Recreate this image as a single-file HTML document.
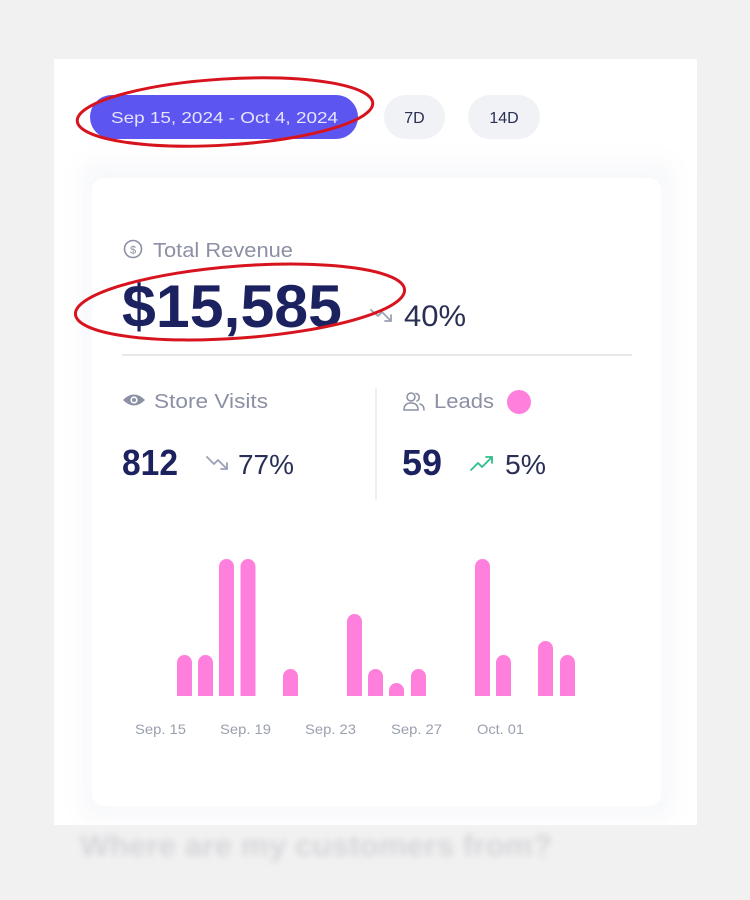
<!DOCTYPE html>
<html><head><meta charset="utf-8"><style>
html,body{margin:0;padding:0;background:#f1f1f1;}
svg{display:block;}
text{font-family:"Liberation Sans",sans-serif;}
</style></head><body>
<svg width="750" height="900" viewBox="0 0 750 900" xmlns="http://www.w3.org/2000/svg">
<defs>
<filter id="sh" x="-20%" y="-20%" width="140%" height="140%"><feGaussianBlur stdDeviation="10"/></filter>
<filter id="bl" x="-10%" y="-50%" width="120%" height="200%"><feGaussianBlur stdDeviation="3.2"/></filter>
</defs>
<rect x="0" y="0" width="750" height="900" fill="#f1f1f1"/>
<!-- outer panel -->
<rect x="54" y="59" width="643" height="766" fill="#ffffff"/>
<!-- card shadow -->
<rect x="80" y="160" width="594" height="660" rx="14" fill="#f3f4f8" opacity="0.6" filter="url(#sh)"/>
<rect x="92" y="178" width="569" height="628" rx="12" fill="#ffffff"/>

<!-- pills -->
<rect x="90" y="95" width="268" height="44" rx="22" fill="#5d55f0"/>
<text x="111" y="123" font-size="16" fill="#e6e4ff" textLength="227" lengthAdjust="spacingAndGlyphs">Sep 15, 2024 - Oct 4, 2024</text>
<rect x="384" y="95" width="61" height="44" rx="22" fill="#f1f2f5"/>
<text x="414.5" y="123" font-size="16" fill="#2a2f55" text-anchor="middle">7D</text>
<rect x="468" y="95" width="72" height="44" rx="22" fill="#f1f2f5"/>
<text x="504" y="123" font-size="16" fill="#2a2f55" text-anchor="middle">14D</text>

<!-- Total revenue -->
<circle cx="133" cy="249" r="8.5" fill="none" stroke="#8b90a4" stroke-width="1.6"/>
<text x="133" y="253.5" font-size="11" fill="#8b90a4" text-anchor="middle">$</text>
<text x="153" y="257" font-size="20" fill="#8b90a4" textLength="140" lengthAdjust="spacingAndGlyphs">Total Revenue</text>
<text x="122" y="327" font-size="60" font-weight="bold" fill="#1c2260" textLength="220" lengthAdjust="spacingAndGlyphs">$15,585</text>
<!-- down arrow -->
<g fill="none" stroke="#9aa0b5" stroke-width="1.8" stroke-linecap="round" stroke-linejoin="round">
<polyline points="371,310 378,316 382,312 391,321"/>
<polyline points="385,321 391,321 391,315"/>
</g>
<text x="404" y="326" font-size="30" fill="#2a2f55" textLength="62" lengthAdjust="spacingAndGlyphs">40%</text>

<line x1="122" y1="355" x2="632" y2="355" stroke="#e6e8ec" stroke-width="2"/>

<!-- Store visits -->
<g>
<path d="M123,400 Q134,389 145,400 Q134,411 123,400 Z" fill="#8b90a4"/>
<circle cx="134" cy="400" r="3.6" fill="#ffffff"/>
<circle cx="134" cy="400" r="2" fill="#8b90a4"/>
</g>
<text x="154" y="408" font-size="20" fill="#8b90a4" textLength="114" lengthAdjust="spacingAndGlyphs">Store Visits</text>
<text x="122" y="475" font-size="36" font-weight="bold" fill="#1c2260" textLength="56" lengthAdjust="spacingAndGlyphs">812</text>
<g fill="none" stroke="#9aa0b5" stroke-width="1.8" stroke-linecap="round" stroke-linejoin="round">
<polyline points="207,457 214,464 218,460 227,469"/>
<polyline points="221,469 227,469 227,463"/>
</g>
<text x="238" y="474" font-size="28" fill="#2a2f55" textLength="56" lengthAdjust="spacingAndGlyphs">77%</text>

<line x1="376" y1="388" x2="376" y2="500" stroke="#e6e8ec" stroke-width="1.5"/>

<!-- Leads -->
<g fill="none" stroke="#8b90a4" stroke-width="1.5" stroke-linecap="round">
<circle cx="411" cy="397" r="4"/>
<path d="M404,410 Q404,403 411,403 Q418,403 418,410 Z"/>
<path d="M416,393.5 A4,4 0 0 1 417,401"/>
<path d="M420,404 Q424,405 424,410"/>
</g>
<text x="434" y="408" font-size="20" fill="#8b90a4" textLength="60" lengthAdjust="spacingAndGlyphs">Leads</text>
<circle cx="519" cy="402" r="12" fill="#ff7fdc"/>
<text x="402" y="475" font-size="36" font-weight="bold" fill="#1c2260" textLength="40" lengthAdjust="spacingAndGlyphs">59</text>
<g fill="none" stroke="#2fbf8a" stroke-width="1.8" stroke-linecap="round" stroke-linejoin="round">
<polyline points="471,470 478,463 482,467 492,457"/>
<polyline points="486,457 492,457 492,463"/>
</g>
<text x="505" y="474" font-size="28" fill="#2a2f55" textLength="41" lengthAdjust="spacingAndGlyphs">5%</text>

<!-- bars -->
<g fill="#ff80dc">
<path d="M177,696 V662.5 A7.5,7.5 0 0 1 192,662.5 V696 Z"/>
<path d="M198,696 V662.5 A7.5,7.5 0 0 1 213,662.5 V696 Z"/>
<path d="M219,696 V566.5 A7.5,7.5 0 0 1 234,566.5 V696 Z"/>
<path d="M240.5,696 V566.5 A7.5,7.5 0 0 1 255.5,566.5 V696 Z"/>
<path d="M283,696 V676.5 A7.5,7.5 0 0 1 298,676.5 V696 Z"/>
<path d="M347,696 V621.5 A7.5,7.5 0 0 1 362,621.5 V696 Z"/>
<path d="M368,696 V676.5 A7.5,7.5 0 0 1 383,676.5 V696 Z"/>
<path d="M389,696 V690.5 A7.5,7.5 0 0 1 404,690.5 V696 Z"/>
<path d="M411,696 V676.5 A7.5,7.5 0 0 1 426,676.5 V696 Z"/>
<path d="M475,696 V566.5 A7.5,7.5 0 0 1 490,566.5 V696 Z"/>
<path d="M496,696 V662.5 A7.5,7.5 0 0 1 511,662.5 V696 Z"/>
<path d="M538,696 V648.5 A7.5,7.5 0 0 1 553,648.5 V696 Z"/>
<path d="M560,696 V662.5 A7.5,7.5 0 0 1 575,662.5 V696 Z"/>
</g>
<g font-size="14" fill="#9aa0ae">
<text x="135" y="734" textLength="51" lengthAdjust="spacingAndGlyphs">Sep. 15</text>
<text x="220" y="734" textLength="51" lengthAdjust="spacingAndGlyphs">Sep. 19</text>
<text x="305" y="734" textLength="51" lengthAdjust="spacingAndGlyphs">Sep. 23</text>
<text x="391" y="734" textLength="51" lengthAdjust="spacingAndGlyphs">Sep. 27</text>
<text x="477" y="734" textLength="47" lengthAdjust="spacingAndGlyphs">Oct. 01</text>
</g>

<!-- blurred heading -->
<text x="80" y="856" font-size="31" font-weight="bold" fill="#d6d6da" filter="url(#bl)" textLength="472" lengthAdjust="spacingAndGlyphs">Where are my customers from?</text>

<!-- red annotation ellipses -->
<g fill="none" stroke="#d7141e" stroke-width="3">
<ellipse cx="225" cy="112" rx="148" ry="33" transform="rotate(-3.5 225 112)"/>
<ellipse cx="240" cy="302" rx="165" ry="36" transform="rotate(-4.3 240 302)"/>
</g>
</svg>
</body></html>
